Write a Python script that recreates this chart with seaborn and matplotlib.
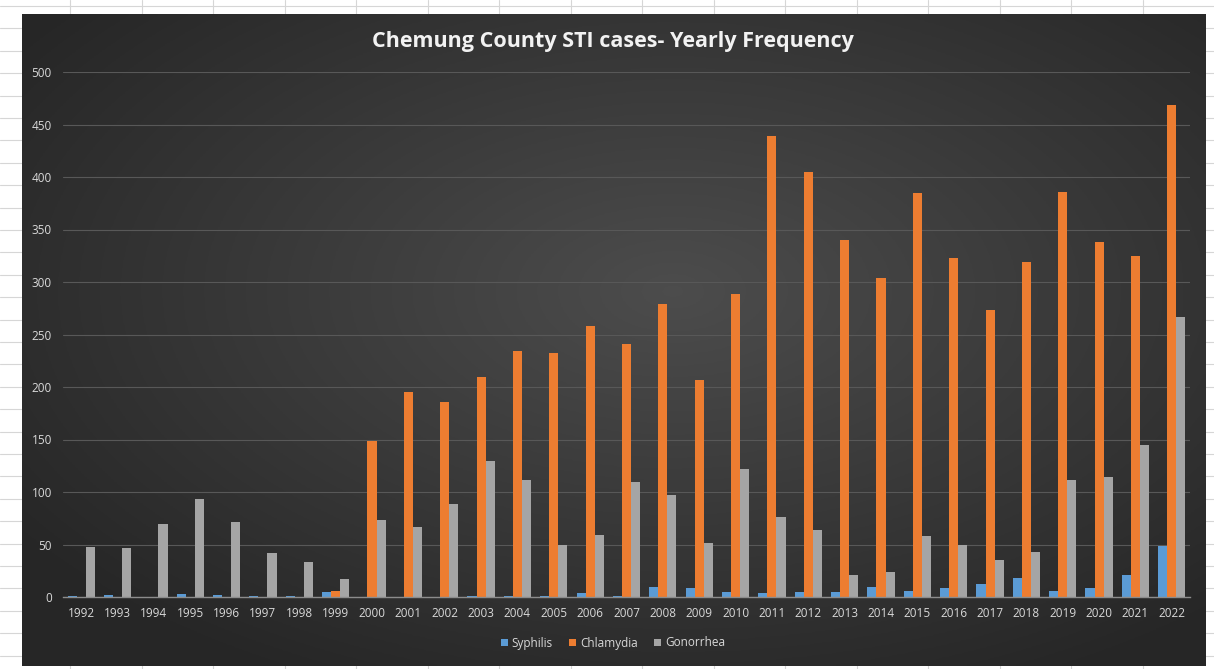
import numpy as np
import pandas as pd
import seaborn as sns
import matplotlib.pyplot as plt
from matplotlib.patches import Patch

years = list(range(1992, 2023))
syphilis = [1, 2, 0, 3, 2, 1, 1, 5, 0, 0, 0, 1, 1, 1, 4, 1, 10, 9, 5, 4,
            5, 5, 10, 6, 9, 12, 18, 6, 9, 21, 49]
chlamydia = [0, 0, 0, 0, 0, 0, 0, 6, 149, 195, 186, 210, 234, 232, 258, 241,
             279, 207, 289, 439, 405, 340, 304, 385, 323, 273, 319, 386, 338,
             325, 469]
gonorrhea = [48, 47, 70, 93, 71, 42, 33, 17, 73, 67, 89, 130, 111, 50, 59,
             110, 97, 51, 122, 76, 64, 21, 24, 58, 50, 35, 43, 111, 114, 145,
             267]
diseases = ['Syphilis', 'Chlamydia', 'Gonorrhea']
colors = ['#5B9BD5', '#ED7D31', '#A5A5A5']

df = pd.DataFrame({'year': [str(y) for y in years] * 3,
                   'cases': syphilis + chlamydia + gonorrhea,
                   'disease': np.repeat(diseases, len(years))})

sns.set_style('dark')
plt.rcParams['font.family'] = ['Open Sans', 'DejaVu Sans']

W, H = 1214, 669
fig = plt.figure(figsize=(W / 100, H / 100), dpi=100, facecolor='white')

# spreadsheet grid behind the chart
sheet = fig.add_axes([0, 0, 1, 1])
sheet.set_xlim(0, W)
sheet.set_ylim(H, 0)
sheet.axis('off')
for yy in np.arange(6, H, 22.4):
    sheet.axhline(yy, color='#d6d6d6', lw=0.8)
for xx in np.arange(70, W, 71.5):
    sheet.axvline(xx, color='#d6d6d6', lw=0.8)

# dark radial gradient panel
panel = fig.add_axes([22 / W, 3 / H, 1184 / W, 652 / H])
gx, gy = np.meshgrid(np.linspace(-1, 1, 400), np.linspace(-1, 1, 220))
r = np.clip(np.sqrt((gx - 0.1) ** 2 + (gy + 0.15) ** 2) / 1.35, 0, 1)
light, dark = np.array([0.30, 0.30, 0.30]), np.array([0.15, 0.15, 0.15])
img = light[None, None, :] * (1 - r[..., None]) + dark[None, None, :] * r[..., None]
panel.imshow(img, aspect='auto', extent=[0, 1, 0, 1])
panel.axis('off')

ax = fig.add_axes([63 / W, 1 - 597 / H, 1127 / W, 525 / H])
ax.set_facecolor('none')
sns.barplot(data=df, x='year', y='cases', hue='disease', palette=colors,
            width=0.75, ax=ax, legend=False, saturation=1,
            edgecolor='none', linewidth=0)
ax.set_ylim(0, 500)
ax.set_xlim(-0.5, len(years) - 0.5)
ax.set_yticks(range(0, 501, 50))
ax.grid(axis='y', color='#585858', lw=0.8)
ax.grid(axis='x', visible=False)
ax.set_axisbelow(True)
for s in ['top', 'right', 'left']:
    ax.spines[s].set_visible(False)
ax.spines['bottom'].set_color('#8c8c8c')
ax.spines['bottom'].set_linewidth(1)
ax.tick_params(axis='both', length=0, labelsize=8.5, colors='#d9d9d9')
ax.tick_params(axis='y', pad=8)
ax.tick_params(axis='x', pad=7)
ax.set_xlabel('')
ax.set_ylabel('')

fig.text(0.505, 1 - 42 / H, 'Chemung County STI cases- Yearly Frequency',
         ha='center', va='center', color='#f2f2f2', fontsize=15.5,
         fontweight='bold')

handles = [Patch(facecolor=c, edgecolor='none') for c in colors]
fig.legend(handles, diseases, loc='center', bbox_to_anchor=(0.505, 1 - 643 / H),
           ncol=3, frameon=False, fontsize=8.5, labelcolor='#d9d9d9',
           handlelength=0.6, handleheight=0.6, handletextpad=0.3,
           columnspacing=1.4)

fig.savefig('out.png', dpi=100, facecolor='white')
